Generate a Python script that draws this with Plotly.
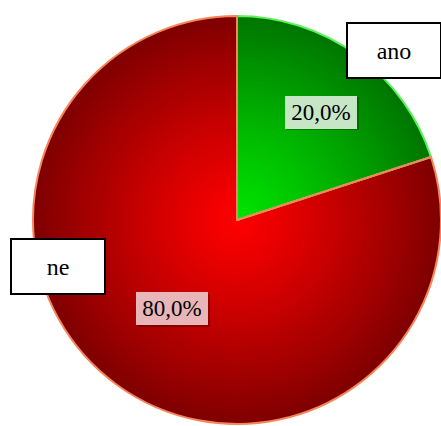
import plotly.graph_objects as go

# ---- data ----
labels = ["ano", "ne"]
values = [20, 80]
pct_text = [f"{v / sum(values) * 100:.1f}%".replace(".", ",") for v in values]

# ---- style ----
W, H = 441, 426
CX, CY, R = 237, 220, 204
inner_rgb = [(0, 228, 0), (255, 0, 0)]
outer_rgb = [(0, 118, 0), (128, 0, 0)]
line_cols = ["#5CF25C", "#F5855A"]
N = 45


def lerp(a, b, t):
    return "rgb(%d,%d,%d)" % tuple(round(a[k] + (b[k] - a[k]) * t) for k in range(3))


def dom(r):
    return dict(
        x=[max(0, (CX - r) / W), min(1, (CX + r) / W)],
        y=[max(0, 1 - (CY + r) / H), min(1, 1 - (CY - r) / H)],
    )


fig = go.Figure()
for i in range(N):
    t = 1 - i / N
    r = R * t
    cols = [lerp(inner_rgb[k], outer_rgb[k], t ** 1.15) for k in range(len(values))]
    fig.add_trace(go.Pie(
        labels=labels, values=values, sort=False, direction="clockwise", rotation=0,
        marker=dict(colors=cols, line=dict(width=0)), textinfo="none",
        hoverinfo="skip", showlegend=False, domain=dom(r),
    ))

fig.add_trace(go.Pie(
    labels=labels, values=values, sort=False, direction="clockwise", rotation=0,
    marker=dict(colors=["rgba(0,0,0,0)"] * len(values), line=dict(width=2, color=line_cols)),
    textinfo="none", hoverinfo="skip", showlegend=False, domain=dom(R),
))

font = dict(family="Liberation Serif, Times New Roman, serif", size=24, color="black")

# category label boxes
cat_pos = [(394, 51), (58, 266)]
for lab, (x, y) in zip(labels, cat_pos):
    fig.add_annotation(
        x=x / W, y=1 - y / H, xref="paper", yref="paper", text=lab, showarrow=False,
        xanchor="center", yanchor="middle", font=font, bgcolor="white",
        bordercolor="black", borderwidth=2, borderpad=0, width=92, height=53,
    )

# percentage boxes
pct_pos = [(321, 112), (172, 308)]
pct_bg = ["#C6E6C6", "#E8B6B8"]
for txt, (x, y), bg in zip(pct_text, pct_pos, pct_bg):
    fig.add_annotation(
        x=(x + 2) / W, y=1 - (y + 2) / H, xref="paper", yref="paper", text="", showarrow=False,
        xanchor="center", yanchor="middle", bgcolor="rgba(0,0,0,0.25)",
        borderwidth=0, borderpad=0, width=72, height=33,
    )
    fig.add_annotation(
        x=x / W, y=1 - y / H, xref="paper", yref="paper", text=txt, showarrow=False,
        xanchor="center", yanchor="middle", font=dict(font, size=23), bgcolor=bg,
        borderwidth=0, borderpad=0, width=72, height=33,
    )

fig.update_layout(
    width=W, height=H, margin=dict(l=0, r=0, t=0, b=0),
    paper_bgcolor="white", plot_bgcolor="white",
)
fig.write_html("out.html")
